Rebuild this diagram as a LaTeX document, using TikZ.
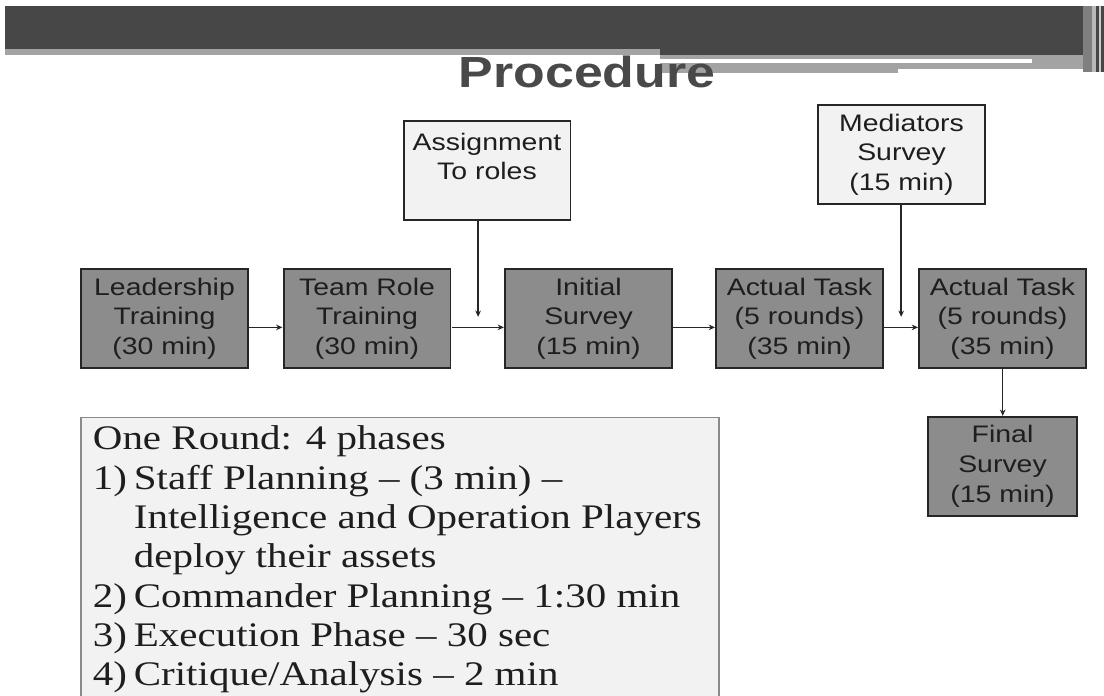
\documentclass[tikz,border=0pt]{standalone}
\usepackage{fontspec}
\usetikzlibrary{arrows.meta}
\newfontfamily\sansfam{Liberation Sans}[Ligatures=TeX]
\newfontfamily\seriffam{Liberation Serif}[Ligatures=TeX]
\definecolor{headdark}{HTML}{474747}
\definecolor{headgray}{HTML}{A3A3A3}
\definecolor{stripgray}{HTML}{7F7F7F}
\definecolor{boxgray}{HTML}{8C8C8C}
\definecolor{lightfill}{HTML}{F2F2F2}
\definecolor{boxline}{HTML}{262626}
\definecolor{boxtext}{HTML}{1E1E1E}
\definecolor{titlegray}{HTML}{494949}
\definecolor{listline}{HTML}{8A8A8A}
\newlength{\numw}\setlength{\numw}{0.861cm}
\newcommand{\numitem}[1]{\makebox[\numw][l]{#1}}
\begin{document}
\begin{tikzpicture}[x=0.0210084cm, y=-0.025cm, xscale=1.19,
  every node/.append style={transform shape},
  stepbox/.style={draw=boxline, line width=1.4pt, fill=boxgray,
    minimum width=3.508cm, minimum height=2.475cm, inner sep=0pt,
    align=center, text=boxtext, font={\sansfam\fontsize{17}{21}\selectfont}},
  lightbox/.style={stepbox, fill=lightfill},
  conn/.style={line width=1.1pt, draw=boxline, -{Stealth[length=4.5pt,width=4pt]}},
  listbox/.style={draw=listline, line width=1.1pt, fill=lightfill, inner sep=0pt,
    text=boxtext, font={\seriffam\fontsize{24.5}{28}\selectfont}}]
\useasboundingbox (0,0) rectangle (1104,696);
\clip (0,0) rectangle (1104,696);
% header bar
\fill[headdark] (5,6) rectangle (660,49);
\fill[headgray] (5,49) rectangle (660,55);
\fill[headdark] (660,6) rectangle (1083,55);
\fill[headgray] (660,55) rectangle (898,73);
\fill[headgray] (898,55) rectangle (1083,69);
\fill[white] (660,59) rectangle (1032,63);
\fill[stripgray] (1083,6) rectangle (1092,72);
\fill[gray!55] (1092,6) rectangle (1096,72);
\fill[headdark] (1096,6) rectangle (1099,72);
\fill[gray!40] (1099,6) rectangle (1101,72);
\fill[headdark] (1101,6) rectangle (1104,72);
% title
\node[anchor=base, text=titlegray, font={\sansfam\bfseries\fontsize{31}{36}\selectfont}] (title) at (587,88) {Procedure};
% boxes
\node[stepbox] (lead) at (164.5,318.5) {Leadership\\Training\\(30 min)};
\node[stepbox] (team) at (367,318.5) {Team Role\\Training\\(30 min)};
\node[stepbox] (init) at (588.5,318.5) {Initial\\Survey\\(15 min)};
\node[stepbox] (act1) at (799.5,318.5) {Actual Task\\(5 rounds)\\(35 min)};
\node[stepbox] (act2) at (1002.5,318.5) {Actual Task\\(5 rounds)\\(35 min)};
\node[stepbox, minimum width=3.13cm] (final) at (1002.5,466.5) {Final\\Survey\\(15 min)};
\node[lightbox] (assign) at (487,171) {Assignment\\To roles\\\phantom{X}};
\node[lightbox] (med) at (901.5,154.5) {Mediators\\Survey\\(15 min)};
% connectors
\coordinate (assignend) at (478,317);
\coordinate (medend) at (901,317);
\draw[conn] ([yshift=-0.225cm]lead.east) -- ([yshift=-0.225cm]team.west);
\draw[conn] ([yshift=-0.225cm]team.east) -- ([yshift=-0.225cm]init.west);
\draw[conn] ([yshift=-0.225cm]init.east) -- ([yshift=-0.225cm]act1.west);
\draw[conn] ([yshift=-0.225cm]act1.east) -- ([yshift=-0.225cm]act2.west);
\draw[conn] (act2.south) -- (final.north);
\draw[conn] (assign.south -| assignend) -- (assignend);
\draw[conn] (med.south -| medend) -- (medend);
% list box
\node[listbox, anchor=north west, inner xsep=0.252cm] (rounds) at (80,417) {%
  \parbox[t][7.2cm][t]{12.9cm}{\raggedright
  \rule{0pt}{22.8pt}One Round: 4 phases\\
  \numitem{1)}Staff Planning – (3 min) –\\
  \hspace*{\numw}Intelligence and Operation Players\\
  \hspace*{\numw}deploy their assets\\
  \numitem{2)}Commander Planning – 1:30 min\\
  \numitem{3)}Execution Phase – 30 sec\\
  \numitem{4)}Critique/Analysis – 2 min}};
\end{tikzpicture}
\end{document}
